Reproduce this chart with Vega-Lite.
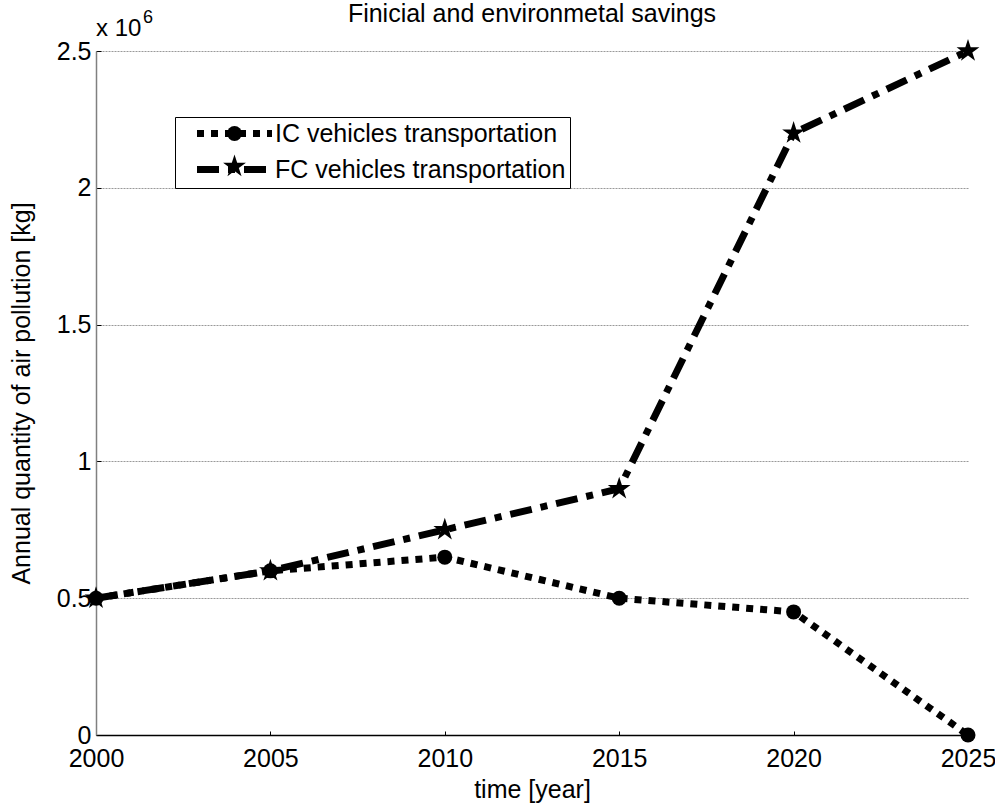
{
  "$schema": "https://vega.github.io/schema/vega-lite/v6.json",
  "autosize": "none",
  "width": 872,
  "height": 684,
  "padding": {"left": 96, "top": 51, "right": 27, "bottom": 75},
  "background": "white",
  "config": {
    "font": "Liberation Sans",
    "view": {"stroke": null},
    "axis": {"labelFont": "Liberation Sans", "titleFont": "Liberation Sans", "labelColor": "black", "titleColor": "black", "titleFontWeight": "normal", "labelFontSize": 25, "titleFontSize": 25},
    "legend": {"labelFont": "Liberation Sans"}
  },
  "title": {"text": "Finicial and environmetal savings", "fontSize": 25, "fontWeight": "normal", "font": "Liberation Sans", "color": "black", "anchor": "middle", "offset": 0, "dy": 18},
  "datasets": {
    "pollution": [
      {"year": 2000, "kg": 500000, "series": "IC vehicles transportation", "marker": "IC vehicles transportation"},
      {"year": 2005, "kg": 600000, "series": "IC vehicles transportation", "marker": "IC vehicles transportation"},
      {"year": 2010, "kg": 650000, "series": "IC vehicles transportation", "marker": "IC vehicles transportation"},
      {"year": 2015, "kg": 500000, "series": "IC vehicles transportation", "marker": "IC vehicles transportation"},
      {"year": 2020, "kg": 450000, "series": "IC vehicles transportation", "marker": "IC vehicles transportation"},
      {"year": 2025, "kg": 0, "series": "IC vehicles transportation", "marker": "IC vehicles transportation"},
      {"year": 2000, "kg": 500000, "series": "FC vehicles transportation", "marker": "FC vehicles transportation"},
      {"year": 2005, "kg": 600000, "series": "FC vehicles transportation", "marker": "FC vehicles transportation"},
      {"year": 2010, "kg": 750000, "series": "FC vehicles transportation", "marker": "FC vehicles transportation"},
      {"year": 2015, "kg": 900000, "series": "FC vehicles transportation", "marker": "FC vehicles transportation"},
      {"year": 2020, "kg": 2200000, "series": "FC vehicles transportation", "marker": "FC vehicles transportation"},
      {"year": 2025, "kg": 2500000, "series": "FC vehicles transportation", "marker": "FC vehicles transportation"}
    ],
    "mult": [{"year": 2000, "kg": 2500000, "base": "x 10", "exp": "6"}]
  },
  "layer": [
    {
      "data": {"name": "pollution"},
      "mark": {"type": "line", "color": "black", "strokeWidth": 7, "strokeCap": "butt"},
      "encoding": {
        "x": {"field": "year", "type": "quantitative", "scale": {"domain": [2000, 2025], "nice": false, "zero": false},
          "axis": {"values": [2000, 2005, 2010, 2015, 2020, 2025], "format": "d", "title": "time [year]", "grid": false, "domainColor": "black", "domainWidth": 1.5, "tickColor": "black", "tickSize": -4, "labelPadding": 15, "titlePadding": 6, "labelFlush": false}},
        "y": {"field": "kg", "type": "quantitative", "scale": {"domain": [0, 2500000], "nice": false},
          "axis": {"values": [0, 500000, 1000000, 1500000, 2000000, 2500000], "labelExpr": "'' + datum.value / 1000000", "title": "Annual quantity of air pollution [kg]", "grid": true, "gridColor": "#999999", "gridDash": [2, 1], "gridWidth": 1, "domainColor": "#808080", "domainWidth": 1.5, "tickColor": "black", "tickSize": -5, "labelPadding": 10, "titlePadding": 22}},
        "strokeDash": {"field": "series", "type": "nominal",
          "scale": {"domain": ["IC vehicles transportation", "FC vehicles transportation"], "range": [[7, 7], [22, 9, 7, 9]]},
          "legend": {"title": null, "orient": "none", "legendX": 79, "legendY": 66, "zindex": 1, "symbolType": "M-5,0H5", "symbolSize": 225, "symbolStrokeWidth": 7, "symbolStrokeColor": "black", "symbolOffset": 43, "labelFontSize": 25, "labelColor": "black", "labelOffset": 28, "labelExpr": "(datum.label[0] == 'I' ? ' ' : '') + datum.label + '    '", "rowPadding": 7, "padding": 4, "strokeColor": "black", "fillColor": "white", "labelLimit": 500}}
      }
    },
    {
      "data": {"name": "pollution"},
      "mark": {"type": "point", "filled": true, "color": "black", "opacity": 1, "size": 225},
      "encoding": {
        "x": {"field": "year", "type": "quantitative"},
        "y": {"field": "kg", "type": "quantitative"},
        "shape": {"field": "marker", "type": "nominal", "sort": ["IC vehicles transportation", "FC vehicles transportation"],
          "scale": {"range": ["circle", "M0,-1.6L0.357,-0.491L1.522,-0.494L0.578,0.187L0.941,1.294L0,0.608L-0.941,1.294L-0.578,0.187L-1.522,-0.494L-0.357,-0.491Z"]},
          "legend": {"title": null, "orient": "none", "legendX": 79, "legendY": 66, "zindex": 2, "symbolSize": 225, "symbolFillColor": "black", "symbolStrokeWidth": 0, "symbolOffset": 43, "labelFontSize": 25, "labelColor": "transparent", "labelOffset": 28, "labelExpr": "(datum.label[0] == 'I' ? ' ' : '') + datum.label + '    '", "rowPadding": 7, "padding": 4, "labelLimit": 500}}
      }
    },
    {
      "data": {"name": "mult"},
      "mark": {"type": "text", "align": "left", "baseline": "alphabetic", "dx": 0, "dy": -15, "fontSize": 24, "font": "Liberation Sans", "color": "black"},
      "encoding": {
        "x": {"field": "year", "type": "quantitative"},
        "y": {"field": "kg", "type": "quantitative"},
        "text": {"field": "base"}
      }
    },
    {
      "data": {"name": "mult"},
      "mark": {"type": "text", "align": "left", "baseline": "alphabetic", "dx": 47, "dy": -28, "fontSize": 18, "font": "Liberation Sans", "color": "black"},
      "encoding": {
        "x": {"field": "year", "type": "quantitative"},
        "y": {"field": "kg", "type": "quantitative"},
        "text": {"field": "exp"}
      }
    }
  ]
}
